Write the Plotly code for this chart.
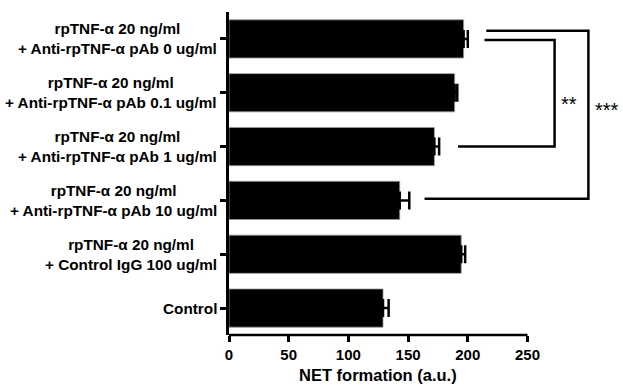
import plotly.graph_objects as go

categories = [
    "rpTNF-α 20 ng/ml<br>+ Anti-rpTNF-α pAb 0 ug/ml",
    "rpTNF-α 20 ng/ml<br>+ Anti-rpTNF-α pAb 0.1 ug/ml",
    "rpTNF-α 20 ng/ml<br>+ Anti-rpTNF-α pAb 1 ug/ml",
    "rpTNF-α 20 ng/ml<br>+ Anti-rpTNF-α pAb 10 ug/ml",
    "rpTNF-α 20 ng/ml<br>+ Control IgG 100 ug/ml",
    "Control",
]
values = [196.5, 189, 172, 143, 194.5, 129]
errors = [3.5, 2.2, 4, 8, 3.3, 4.7]
x_ticks = [0, 50, 100, 150, 200, 250]
x_title = "NET formation (a.u.)"

# significance brackets: (x_top_start, y_top, x_bottom_start, y_bottom, x_vertical, label, label_x, label_y)
brackets = [
    (215.5, -0.15, 163.8, 2.97, 301.0, "***", 317.0, 1.32),
    (214.0, 0.02, 191.8, 2.0, 272.7, "**", 285.0, 1.2),
]

positions = list(range(len(categories)))
FONT = "Liberation Sans, Arial, sans-serif"

fig = go.Figure()
fig.add_trace(go.Bar(
    x=values,
    y=positions,
    orientation="h",
    width=0.71,
    marker=dict(color="black", line=dict(color="#9a9a9a", width=0.8)),
    error_x=dict(type="data", symmetric=False, array=errors,
                 arrayminus=[0] * len(errors), color="black",
                 thickness=2.5, width=9),
    showlegend=False,
    hoverinfo="skip",
))

shapes = []
annotations = []
for (xt, yt, xb, yb, xv, lab, lx, ly) in brackets:
    shapes.append(dict(type="path", xref="x", yref="y",
                       path=f"M {xt},{yt} L {xv},{yt} L {xv},{yb} L {xb},{yb}",
                       line=dict(color="black", width=2.5)))
    annotations.append(dict(xref="x", yref="y", x=lx, y=ly,
                            text=lab, showarrow=False,
                            font=dict(family=FONT, size=20, color="black")))

# x axis line only spanning 0..250
shapes.append(dict(type="line", xref="x", yref="paper", x0=-1.0, x1=250, y0=0, y1=0,
                   line=dict(color="black", width=2.5)))

for i, cat in enumerate(categories):
    annotations.append(dict(xref="paper", yref="y", x=0, y=i, xanchor="right",
                            xshift=-10, text="<b>" + cat + "</b>", align="center",
                            showarrow=False,
                            font=dict(family=FONT, size=15.3, color="black")))

# x-axis title centred under the 0..250 axis
annotations.append(dict(xref="x", yref="paper", x=(x_ticks[0] + x_ticks[-1]) / 2, y=0,
                        xanchor="center", yanchor="top", yshift=-29,
                        text="<b>" + x_title + "</b>", showarrow=False,
                        font=dict(family=FONT, size=16.5, color="black")))

fig.update_layout(
    width=623, height=385,
    margin=dict(l=229, r=0, t=12, b=50),
    plot_bgcolor="white", paper_bgcolor="white",
    shapes=shapes, annotations=annotations,
    font=dict(family=FONT, color="black"),
)
fig.update_xaxes(
    range=[0, 330], tickvals=x_ticks, ticktext=[f"<b>{t}</b>" for t in x_ticks],
    showline=False, showgrid=False, zeroline=False,
    ticks="outside", ticklen=6, tickwidth=2.5, tickcolor="black",
    tickfont=dict(family=FONT, size=15, color="black"),
)
fig.update_yaxes(
    range=[5.5, -0.5], tickvals=positions, showticklabels=False,
    showline=True, linewidth=2.5, linecolor="black",
    showgrid=False, zeroline=False,
    ticks="outside", ticklen=6, tickwidth=2.5, tickcolor="black",
)

fig.write_html("out.html", config={"displayModeBar": False},
               post_script="document.body.style.margin='0';")
